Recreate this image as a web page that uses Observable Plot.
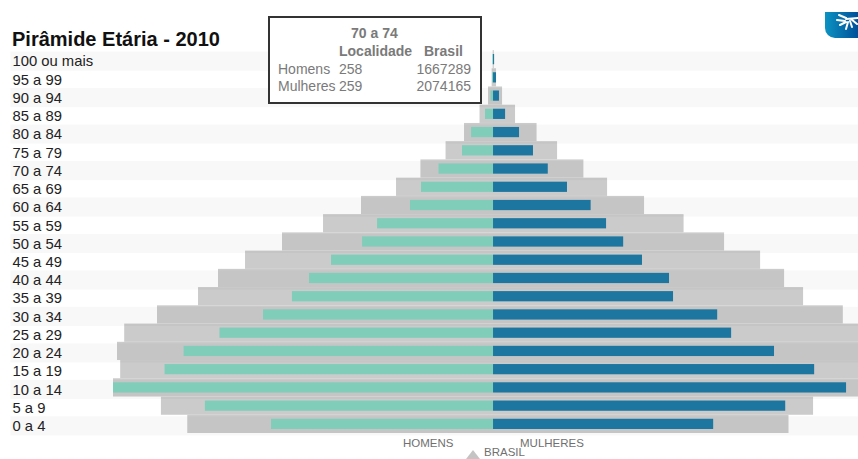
<!DOCTYPE html>
<html lang="pt-BR">
<head>
<meta charset="utf-8">
<title>Pirâmide Etária - 2010</title>
<script src="https://cdn.jsdelivr.net/npm/d3@7"></script>
<script src="https://cdn.jsdelivr.net/npm/@observablehq/plot@0.6"></script>
<style>
  html, body { margin: 0; padding: 0; width: 858px; height: 459px; overflow: hidden; background: #fff; }
  body { position: relative; font-family: "Liberation Sans", Arial, sans-serif; }
  #chart { position: absolute; left: 0; top: 0; }
  #titulo { position: absolute; left: 12px; top: 28px; margin: 0; font-size: 20px; line-height: 22px; font-weight: bold; color: #111; }
  #detalhe { position: absolute; left: 268px; top: 16px; width: 210px; height: 84px; border: 2px solid #333; background: #fff; color: #7a7a7a; font-size: 14px; }
  #detalhe span { position: absolute; white-space: nowrap; line-height: 16px; }
  #detalhe .b { font-weight: bold; }
  .legenda { position: absolute; font-size: 11.5px; line-height: 14px; color: #707070; white-space: nowrap; }
  #triangulo { position: absolute; left: 466px; top: 450px; width: 0; height: 0; border-left: 7px solid transparent; border-right: 7px solid transparent; border-bottom: 9px solid #c4c4c4; }
  #marca { position: absolute; left: 825px; top: 12px; width: 33px; height: 26px; border-bottom-left-radius: 10px; background: linear-gradient(90deg, #0c93c2, #004f98); overflow: hidden; }
</style>
</head>
<body>
<div id="chart"></div>
<h1 id="titulo">Pirâmide Etária - 2010</h1>
<div id="detalhe"></div>
<div class="legenda" style="left:403px;top:436px">HOMENS</div>
<div class="legenda" style="left:520px;top:436px">MULHERES</div>
<div id="triangulo"></div>
<div class="legenda" style="left:484px;top:445px">BRASIL</div>
<div id="marca">
  <svg width="33" height="26" viewBox="0 0 33 26" fill="none" stroke="#fff" stroke-linecap="round">
    <path d="M14 3 L21 6 M12 8 L20 9 M15 13 L21 10 M21 17 L23 10 M27 15 L25 9 M32 12 L26 7 M21 7 L33 6" stroke-width="2"/>
  </svg>
</div>
<script>
// Faixas etárias, da mais velha para a mais nova
const faixas = ["100 ou mais", "95 a 99", "90 a 94", "85 a 89", "80 a 84", "75 a 79", "70 a 74", "65 a 69", "60 a 64", "55 a 59", "50 a 54", "45 a 49", "40 a 44", "35 a 39", "30 a 34", "25 a 29", "20 a 24", "15 a 19", "10 a 14", "5 a 9", "0 a 4"];

// População da localidade
const homensLocal = [3, 5, 12, 38, 104, 147, 258, 341, 393, 549, 620, 767, 871, 952, 1089, 1295, 1465, 1555, 1799, 1364, 1051];
const mulheresLocal = [5, 14, 28, 57, 123, 189, 259, 350, 462, 535, 616, 705, 833, 852, 1061, 1127, 1330, 1520, 1671, 1383, 1042];

// População do Brasil
const homensBrasil = [8000, 32000, 115000, 310000, 666000, 1090000, 1667289, 2227000, 3031000, 3903000, 4845000, 5694000, 6314000, 6773000, 7715000, 8468000, 8633000, 8560000, 8725000, 7625000, 7020000];
const mulheresBrasil = [17000, 69000, 207000, 505000, 999000, 1470000, 2074165, 2618000, 3467000, 4374000, 5304000, 6131000, 6682000, 7118000, 8030000, 8633000, 8610000, 8427000, 8434000, 7347000, 6783000];

// Cada pirâmide é normalizada pelo seu maior grupo, para que as duas se sobreponham
const maxLocal = d3.max([...homensLocal, ...mulheresLocal]);
const maxBrasil = d3.max([...homensBrasil, ...mulheresBrasil]);

const linhas = faixas.map((faixa, i) => ({
  faixa,
  par: i % 2 === 0,
  hLocal: -homensLocal[i] / maxLocal,
  mLocal: mulheresLocal[i] / maxLocal,
  hBrasil: -homensBrasil[i] / maxBrasil,
  mBrasil: mulheresBrasil[i] / maxBrasil
}));

const plot = Plot.plot({
  width: 858,
  height: 459,
  marginLeft: 113,
  marginRight: 0,
  marginTop: 50,
  marginBottom: 26,
  style: { background: "transparent", fontFamily: "'Liberation Sans', Arial, sans-serif" },
  x: { domain: [-1, 0.9603], axis: null },
  y: { domain: faixas, padding: 0, round: false, axis: null },
  marks: [
    Plot.barX(linhas, { y: "faixa", x1: "hBrasil", x2: "mBrasil", fill: "#cbcbcb", inset: 0 }),
    // Listras alternadas que atravessam toda a largura
    Plot.barX(linhas.filter(d => d.par), { y: "faixa", x1: () => -1.27, x2: () => 1, fill: "#000", fillOpacity: 0.027, dy: 1.5, insetBottom: -1 }),
    Plot.barX(linhas, { y: "faixa", x1: "hLocal", x2: 0, fill: "#80cdb9", insetTop: 4, insetBottom: 4 }),
    Plot.barX(linhas, { y: "faixa", x1: 0, x2: "mLocal", fill: "#1c769f", insetTop: 4, insetBottom: 4 }),
    Plot.axisY({ anchor: "left", label: null, tickSize: 0, tickPadding: 0, textAnchor: "start", dx: -101, dy: 2, fontSize: 14.8, fill: "#222" })
  ]
});
document.getElementById("chart").append(plot);

// Quadro de detalhe da faixa selecionada
const selecionada = faixas.indexOf("70 a 74");
const celulas = [
  [faixas[selecionada], 81, 7, "b"],
  ["Localidade", 69, 25, "b"],
  ["Brasil", 154, 25, "b"],
  ["Homens", 8, 43, ""],
  [homensLocal[selecionada], 69, 43, ""],
  ["Mulheres", 8, 60, ""],
  [mulheresLocal[selecionada], 69, 60, ""]
];
const detalhe = document.getElementById("detalhe");
for (const [texto, esquerda, topo, classe] of celulas) {
  const s = document.createElement("span");
  s.textContent = texto;
  s.className = classe;
  s.style.left = esquerda + "px";
  s.style.top = topo + "px";
  detalhe.append(s);
}
for (const [valor, topo] of [[homensBrasil[selecionada], 43], [mulheresBrasil[selecionada], 60]]) {
  const s = document.createElement("span");
  s.textContent = valor;
  s.style.right = "9px";
  s.style.top = topo + "px";
  detalhe.append(s);
}
</script>
</body>
</html>
